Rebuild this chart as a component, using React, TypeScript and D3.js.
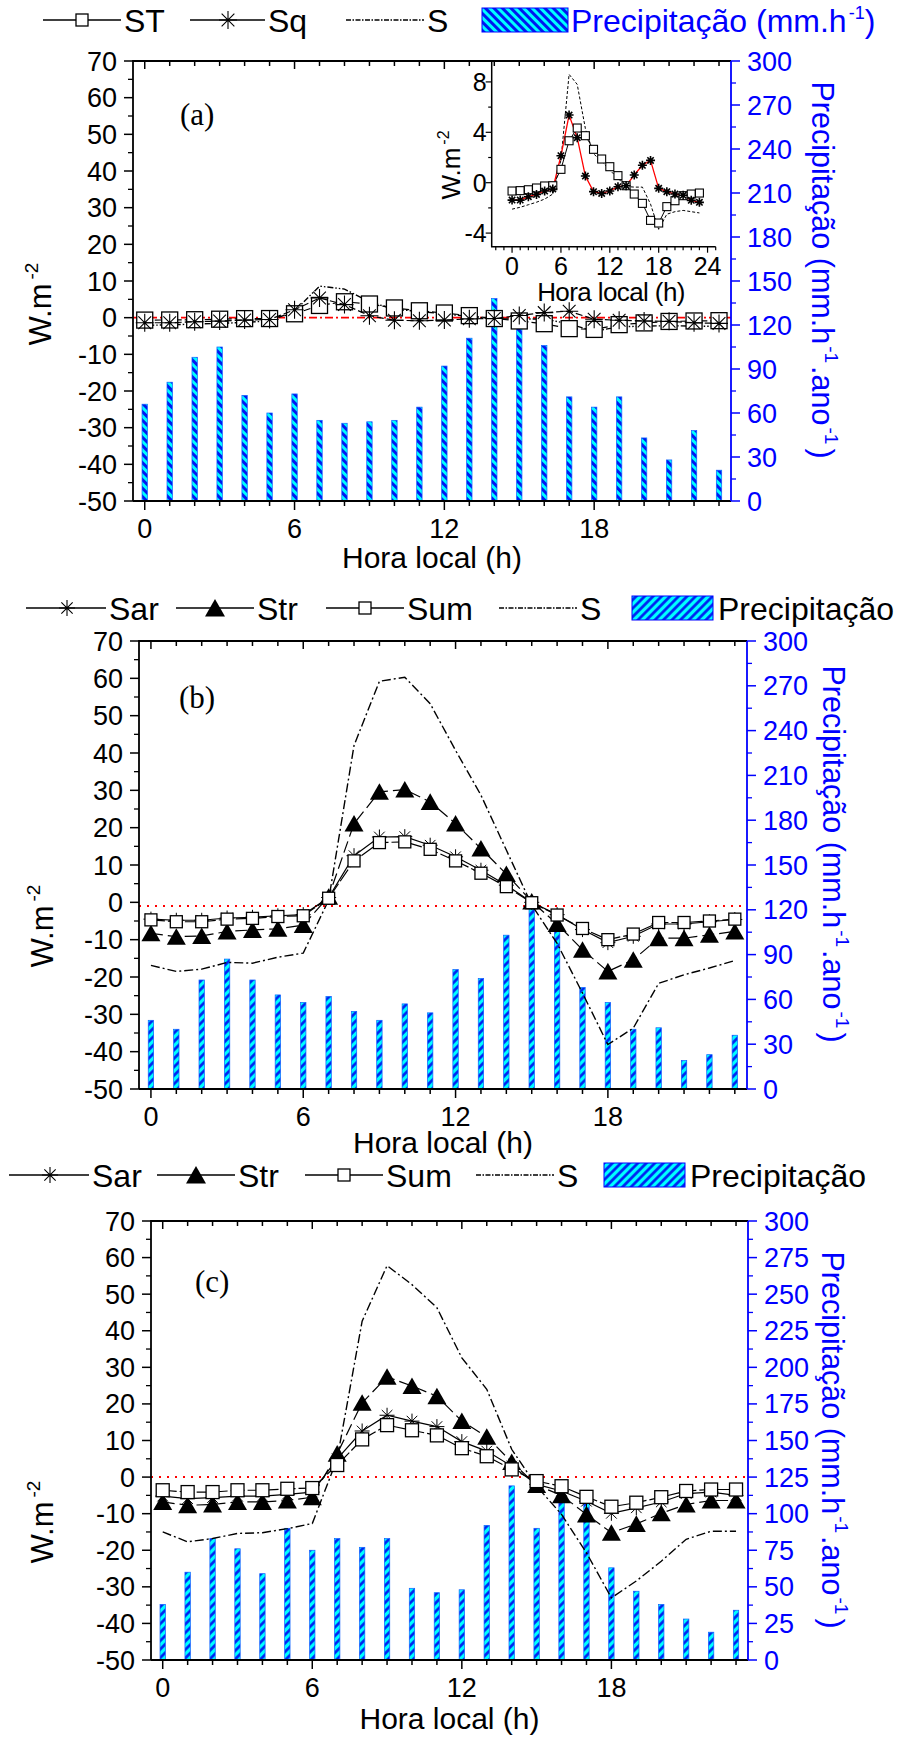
import * as d3 from "d3";

const FONT = "'Liberation Sans', Arial, Helvetica, sans-serif";
const SERIF = "'Liberation Serif', 'Times New Roman', serif";
const BLUE = "#0000ff";

const hours = d3.range(0, 24);
const hourLabels = [0, 6, 12, 18];
const leftTicks = d3.range(-50, 71, 10);
const ticksPrecAB = d3.range(0, 301, 30);
const ticksPrecC = d3.range(0, 301, 25);
const insetYTicks = [-4, 0, 4, 8];
const insetXTicks = [0, 6, 12, 18, 24];

// (a) fluxes W.m-2 and precipitation
const stA = [-0.66, -0.63, -0.56, -0.42, -0.26, -0.24, 1.06, 3.33, 4.34, 3.73, 2.65, 1.88, 1.27, 0.56, -0.24, -0.9, -1.64, -2.99, -3.2, -1.9, -1.43, -1.03, -0.9, -0.82];
const sqA = [-1.38, -1.38, -1.11, -0.93, -0.66, -0.5, 2.14, 5.37, 3.57, 0.53, -0.71, -0.85, -0.66, -0.32, -0.24, 0.61, 1.38, 1.77, -0.45, -0.71, -0.9, -1.0, -1.4, -1.56];
const sA = [-2.1, -1.95, -1.75, -1.55, -1.3, -0.9, 1.8, 8.6, 7.8, 4.3, 2.3, 1.7, 1.0, 0.35, -0.3, -0.35, -0.35, -1.7, -3.7, -2.5, -2.3, -2.2, -2.3, -2.4];
const precA = [66, 81, 98, 105, 72, 60, 73, 55, 53, 54, 55, 64, 92, 111, 138, 125, 106, 71, 64, 71, 43, 28, 48, 21];

// (b)
const sarB = [-4.5, -4.8, -4.8, -4.2, -4.0, -3.6, -3.3, 1.3, 12.5, 17.5, 17.6, 15.3, 12.2, 8.6, 4.6, 0, -3.3, -7.3, -10.8, -9.1, -5.8, -5.8, -5.2, -4.6];
const strB = [-8.3, -9.2, -9, -7.8, -7.4, -7.1, -6.1, 1.5, 21.1, 29.6, 30.2, 26.9, 21.1, 14.4, 7.6, 0.2, -5.8, -12.7, -18.5, -15.4, -9.6, -9.6, -8.7, -7.8];
const sumB = [-4.7, -5.2, -5.2, -4.5, -4.3, -3.8, -3.6, 1.1, 11.1, 16, 16.2, 14.2, 11.1, 7.8, 4.2, -0.1, -3.4, -7, -10, -8.5, -5.4, -5.4, -5, -4.5];
const sB = [-16.9, -18.5, -17.9, -16.1, -16.3, -14.7, -13.6, 0.6, 42, 59.2, 60.3, 53.2, 40.7, 28.7, 14, -0.7, -11, -24.3, -38.1, -33.7, -21.7, -19.4, -17.6, -15.6];
const precB = [46, 40, 73, 87, 73, 63, 58, 62, 52, 46, 57, 51, 80, 74, 103, 126, 118, 68, 58, 40, 41, 19, 23, 36];

// (c)
const sarC = [-5.2, -5.9, -5.6, -5.2, -5.2, -4.7, -4.1, 5.0, 12.6, 16.9, 15.3, 13.8, 9.7, 7.1, 3.0, -2.0, -3.8, -6.6, -9.9, -8.4, -6.8, -4.5, -4.1, -5.0];
const strC = [-6.8, -7.7, -7.5, -6.8, -6.8, -6.4, -5.5, 6.4, 20.3, 27.4, 24.9, 22.1, 15.3, 11.0, 4.1, -2.2, -5.0, -10.2, -15.2, -12.8, -9.9, -7.5, -6.4, -6.4];
const sumC = [-3.6, -4.1, -4.1, -3.6, -3.6, -3.2, -3.0, 3.3, 10.3, 14.2, 12.8, 11.4, 7.9, 5.7, 2.1, -1.1, -2.5, -5.4, -8.1, -7.0, -5.5, -3.8, -3.4, -3.4];
const sC = [-15.0, -17.7, -16.8, -15.4, -15.2, -14.1, -12.7, 5.0, 42.6, 57.8, 52.6, 46.3, 32.6, 24.0, 7.6, -2.5, -10.2, -20.7, -33.0, -28.4, -23.0, -17.0, -14.8, -14.8];
const precC = [38, 60, 83, 76, 59, 90, 75, 83, 77, 83, 49, 46, 48, 92, 119, 90, 119, 114, 63, 47, 38, 28, 19, 34];

type Frame = { l: number; r: number; t: number; b: number };

const Square = ({ x, y, s, w = 1.3 }: any) => (
  <rect x={x - s / 2} y={y - s / 2} width={s} height={s} fill="#fff" stroke="#000" strokeWidth={w} />
);

const Star = ({ x, y, s, w = 1.1, color = "#000" }: any) => {
  const r = s / 2;
  const d = [0, 45, 90, 135]
    .map((a) => {
      const c = Math.cos((a * Math.PI) / 180) * r, k = Math.sin((a * Math.PI) / 180) * r;
      return `M${x - c},${y - k}L${x + c},${y + k}`;
    })
    .join("");
  return <path d={d} stroke={color} strokeWidth={w} fill="none" />;
};

const Tri = ({ x, y, s }: any) => (
  <path d={`M${x},${y - s * 0.45}L${x + s / 2},${y + s * 0.42}L${x - s / 2},${y + s * 0.42}Z`} fill="#000" />
);

const Marker = ({ kind, x, y, s, w }: any) =>
  kind === "sq" ? <Square x={x} y={y} s={s} w={w} /> : kind === "tri" ? <Tri x={x} y={y} s={s} /> : <Star x={x} y={y} s={s} w={w} />;

type Series = { vals: number[]; kind: string; size: number; dash: string; w?: number };

function Panel(p: {
  f: Frame; series: Series[]; s: number[]; sDash: string; prec: number[]; precTicks: number[]; precMinor: number;
  hatch: string; zero: { v: number; dash: string; w: number }; tag: string; tagX: number; tagY: number;
  yTitle: [number, number]; rTitle: [number, number]; xTitleDy: number;
}) {
  const { f } = p;
  const x = d3.scaleLinear().domain([-0.47, 23.48]).range([f.l, f.r]);
  const y = d3.scaleLinear().domain([-50, 70]).range([f.b, f.t]);
  const yr = d3.scaleLinear().domain([0, 300]).range([f.b, f.t]);
  const line = d3.line<number>().x((_, i) => x(hours[i])).y((v) => y(v));
  const minorL = d3.range(-45, 70, 10);
  const minorR = p.precTicks.slice(0, -1).map((v) => v + p.precMinor);
  return (
    <g>
      {p.prec.map((v, i) => (
        <rect key={i} x={x(hours[i]) - 2.7} y={yr(v)} width={5.4} height={f.b - yr(v)} fill={`url(#${p.hatch})`} stroke="#1060ff" strokeWidth={0.7} />
      ))}
      <line x1={f.l} x2={f.r} y1={y(p.zero.v)} y2={y(p.zero.v)} stroke="#ff0000" strokeWidth={p.zero.w} strokeDasharray={p.zero.dash} />
      <path d={line(p.s) || ""} fill="none" stroke="#000" strokeWidth={1.4} strokeDasharray={p.sDash} />
      {p.series.map((se, k) => (
        <g key={k}>
          <path d={line(se.vals) || ""} fill="none" stroke="#000" strokeWidth={1.2} strokeDasharray={se.dash} />
          {se.vals.map((v, i) => (
            <Marker key={i} kind={se.kind} x={x(hours[i])} y={y(v)} s={se.size} w={se.w} />
          ))}
        </g>
      ))}
      <path d={`M${f.l},${f.b}V${f.t}H${f.r}`} fill="none" stroke="#000" strokeWidth={1.8} />
      <line x1={f.l} x2={f.r} y1={f.b} y2={f.b} stroke="#000" strokeWidth={1.8} />
      <line x1={f.r} x2={f.r} y1={f.t} y2={f.b} stroke={BLUE} strokeWidth={1.8} />
      {hours.map((h) => {
        const maj = h % 6 === 0;
        return (
          <g key={h}>
            <line x1={x(h)} x2={x(h)} y1={f.b} y2={f.b + (maj ? 9 : 5)} stroke="#000" strokeWidth={1.5} />
            <line x1={x(h)} x2={x(h)} y1={f.t} y2={f.t + (maj ? 8 : 5)} stroke="#000" strokeWidth={1.5} />
          </g>
        );
      })}
      {hourLabels.map((h) => (
        <text key={h} x={x(h)} y={f.b + 37} fontSize={27} textAnchor="middle">{h}</text>
      ))}
      <text x={(f.l + f.r) / 2} y={f.b + p.xTitleDy} fontSize={30} textAnchor="middle">Hora local (h)</text>
      {leftTicks.map((v) => (
        <g key={v}>
          <line x1={f.l - 9} x2={f.l} y1={y(v)} y2={y(v)} stroke="#000" strokeWidth={1.5} />
          <text x={f.l - 16} y={y(v) + 9.5} fontSize={27} textAnchor="end">{v}</text>
        </g>
      ))}
      {minorL.map((v) => (
        <line key={v} x1={f.l - 5} x2={f.l} y1={y(v)} y2={y(v)} stroke="#000" strokeWidth={1.3} />
      ))}
      {p.precTicks.map((v) => (
        <g key={v}>
          <line x1={f.r} x2={f.r + 9} y1={yr(v)} y2={yr(v)} stroke={BLUE} strokeWidth={1.5} />
          <text x={f.r + 16} y={yr(v) + 9.5} fontSize={27} fill={BLUE}>{v}</text>
        </g>
      ))}
      {minorR.map((v) => (
        <line key={v} x1={f.r} x2={f.r + 5} y1={yr(v)} y2={yr(v)} stroke={BLUE} strokeWidth={1.3} />
      ))}
      <text transform={`translate(${p.yTitle[0]},${p.yTitle[1]}) rotate(-90)`} fontSize={31} textAnchor="middle">
        W.m<tspan fontSize={19} dx={4} dy={-13}>-2</tspan>
      </text>
      <text transform={`translate(${p.rTitle[0]},${p.rTitle[1]}) rotate(90)`} fontSize={30.5} textAnchor="middle" fill={BLUE}>
        Precipitação (mm.h<tspan fontSize={19} dx={2} dy={-13}>-1</tspan>
        <tspan dx={3} dy={13}>.ano</tspan>
        <tspan fontSize={19} dx={2} dy={-13}>-1</tspan>
        <tspan dx={4} dy={13}>)</tspan>
      </text>
      <text x={p.tagX} y={p.tagY} fontSize={31} fontFamily={SERIF}>{p.tag}</text>
    </g>
  );
}

function Inset() {
  const f = { l: 491.7, r: 715.7, t: 61, b: 246.7 };
  const x = d3.scaleLinear().domain([-2.5, 25]).range([f.l, f.r]);
  const y = d3.scaleLinear().domain([-5.08, 9.66]).range([f.b, f.t]);
  const line = d3.line<number>().x((_, i) => x(hours[i])).y((v) => y(v));
  return (
    <g>
      <path d={line(sA) || ""} fill="none" stroke="#000" strokeWidth={1} strokeDasharray="3,2" />
      <path d={line(stA) || ""} fill="none" stroke="#000" strokeWidth={1} />
      <path d={line(sqA) || ""} fill="none" stroke="#ff0000" strokeWidth={1.3} />
      {stA.map((v, i) => <Square key={i} x={x(hours[i])} y={y(v)} s={8} w={1.1} />)}
      {sqA.map((v, i) => <Star key={i} x={x(hours[i])} y={y(v)} s={9} w={1.6} />)}
      <path d={`M${f.l},${f.t}V${f.b}H${f.r}`} fill="none" stroke="#000" strokeWidth={1.5} />
      {d3.range(-2, 26).map((h) => (
        <line key={h} x1={x(h)} x2={x(h)} y1={f.b} y2={f.b + (h % 6 === 0 ? 6 : 3.5)} stroke="#000" strokeWidth={1.2} />
      ))}
      {d3.range(-4, 10, 2).map((v) => (
        <line key={v} x1={f.l - (v % 4 === 0 ? 6 : 3.5)} x2={f.l} y1={y(v)} y2={y(v)} stroke="#000" strokeWidth={1.2} />
      ))}
      {insetYTicks.map((v) => (
        <text key={v} x={f.l - 5} y={y(v) + 9} fontSize={25} textAnchor="end">{v}</text>
      ))}
      {insetXTicks.map((h) => (
        <text key={h} x={x(h)} y={f.b + 28} fontSize={25} textAnchor="middle">{h}</text>
      ))}
      <text x={611} y={f.b + 54} fontSize={26} textAnchor="middle" letterSpacing={-0.6}>Hora local (h)</text>
      <text transform={`translate(460,165) rotate(-90)`} fontSize={26} textAnchor="middle">
        W.m<tspan fontSize={16} dx={3} dy={-11}>-2</tspan>
      </text>
    </g>
  );
}

const LegLine = ({ x1, x2, y, dash }: any) => (
  <line x1={x1} x2={x2} y1={y} y2={y} stroke="#000" strokeWidth={1.3} strokeDasharray={dash} />
);

function LegendA() {
  const y = 20;
  return (
    <g fontSize={32}>
      <LegLine x1={43} x2={121} y={y} />
      <Square x={82} y={y} s={12} />
      <text x={124} y={y + 11.5}>ST</text>
      <LegLine x1={190} x2={265} y={y} />
      <Star x={228} y={y} s={18} w={1.1} />
      <text x={268} y={y + 11.5}>Sq</text>
      <LegLine x1={346} x2={424} y={y} dash="5,1.5,1.5,1.5" />
      <text x={427} y={y + 11.5}>S</text>
      <rect x={482} y={y - 12} width={86} height={24} fill="url(#hatchA)" stroke={BLUE} strokeWidth={1} />
      <text x={571} y={y + 11.5} fill={BLUE}>
        Precipitação (mm.h<tspan fontSize={18} dy={-13} dx={2}>-1</tspan><tspan dy={13}>)</tspan>
      </text>
    </g>
  );
}

function LegendBC({ y, pos }: { y: number; pos: number[] }) {
  const [a, b, c, d, e] = pos;
  return (
    <g fontSize={32}>
      <LegLine x1={a} x2={a + 80} y={y} />
      <Star x={a + 41} y={y} s={16} w={1.1} />
      <text x={a + 83} y={y + 11.5}>Sar</text>
      <LegLine x1={b} x2={b + 78} y={y} />
      <Tri x={b + 39} y={y} s={20} />
      <text x={b + 81} y={y + 11.5}>Str</text>
      <LegLine x1={c} x2={c + 78} y={y} />
      <Square x={c + 39} y={y} s={12} />
      <text x={c + 81} y={y + 11.5}>Sum</text>
      <LegLine x1={d} x2={d + 78} y={y} dash="5,1.5,1.5,1.5" />
      <text x={d + 81} y={y + 11.5}>S</text>
      <rect x={e} y={y - 12} width={81} height={24} fill="url(#hatchB)" stroke={BLUE} strokeWidth={1} />
      <text x={e + 86} y={y + 11.5}>Precipitação</text>
    </g>
  );
}

export default function App() {
  return (
    <svg width={903} height={1739} fontFamily={FONT} style={{ position: "absolute", left: 0, top: 0, background: "#fff" }}>
      <defs>
        <pattern id="hatchA" patternUnits="userSpaceOnUse" width={6} height={6} patternTransform="rotate(-45)">
          <rect width={6} height={6} fill="#00ffff" />
          <line x1={1.5} x2={1.5} y1={0} y2={6} stroke="#0018f0" strokeWidth={3} />
        </pattern>
        <pattern id="hatchB" patternUnits="userSpaceOnUse" width={6} height={6} patternTransform="rotate(45)">
          <rect width={6} height={6} fill="#00ffff" />
          <line x1={1.5} x2={1.5} y1={0} y2={6} stroke="#0018f0" strokeWidth={2.6} />
        </pattern>
      </defs>
      <rect width={903} height={1739} fill="#fff" />
      <LegendA />
      <Panel
        f={{ l: 133, r: 731, t: 61, b: 501 }}
        series={[
          { vals: stA, kind: "sq", size: 16, dash: "7,3" },
          { vals: sqA, kind: "star", size: 18, dash: "7,3", w: 1.1 },
        ]}
        s={sA} sDash="6,2,1.5,2,1.5,2" prec={precA} precTicks={ticksPrecAB} precMinor={15} hatch="hatchA"
        zero={{ v: 0, dash: "8,3,2,3", w: 1.8 }} tag="(a)" tagX={180} tagY={125}
        yTitle={[51, 304]} rTitle={[812, 270]} xTitleDy={67}
      />
      <Inset />
      <LegendBC y={608} pos={[26, 176, 326, 499, 632]} />
      <Panel
        f={{ l: 139, r: 747, t: 641, b: 1089 }}
        series={[
          { vals: sarB, kind: "star", size: 15, dash: "none", w: 1 },
          { vals: strB, kind: "tri", size: 19, dash: "12,5" },
          { vals: sumB, kind: "sq", size: 12, dash: "14,3" },
        ]}
        s={sB} sDash="9,3,2,3" prec={precB} precTicks={ticksPrecAB} precMinor={15} hatch="hatchB"
        zero={{ v: -1, dash: "2,6", w: 2 }} tag="(b)" tagX={179} tagY={708}
        yTitle={[53, 926]} rTitle={[823, 854]} xTitleDy={64}
      />
      <LegendBC y={1175} pos={[9, 157, 305, 476, 604]} />
      <Panel
        f={{ l: 151, r: 748, t: 1221, b: 1660 }}
        series={[
          { vals: sarC, kind: "star", size: 15, dash: "none", w: 1 },
          { vals: strC, kind: "tri", size: 19, dash: "12,5" },
          { vals: sumC, kind: "sq", size: 13, dash: "14,3" },
        ]}
        s={sC} sDash="9,3,2,3" prec={precC} precTicks={ticksPrecC} precMinor={12.5} hatch="hatchB"
        zero={{ v: 0, dash: "2,6", w: 2 }} tag="(c)" tagX={195} tagY={1292}
        yTitle={[53, 1522]} rTitle={[822, 1440]} xTitleDy={69}
      />
    </svg>
  );
}
